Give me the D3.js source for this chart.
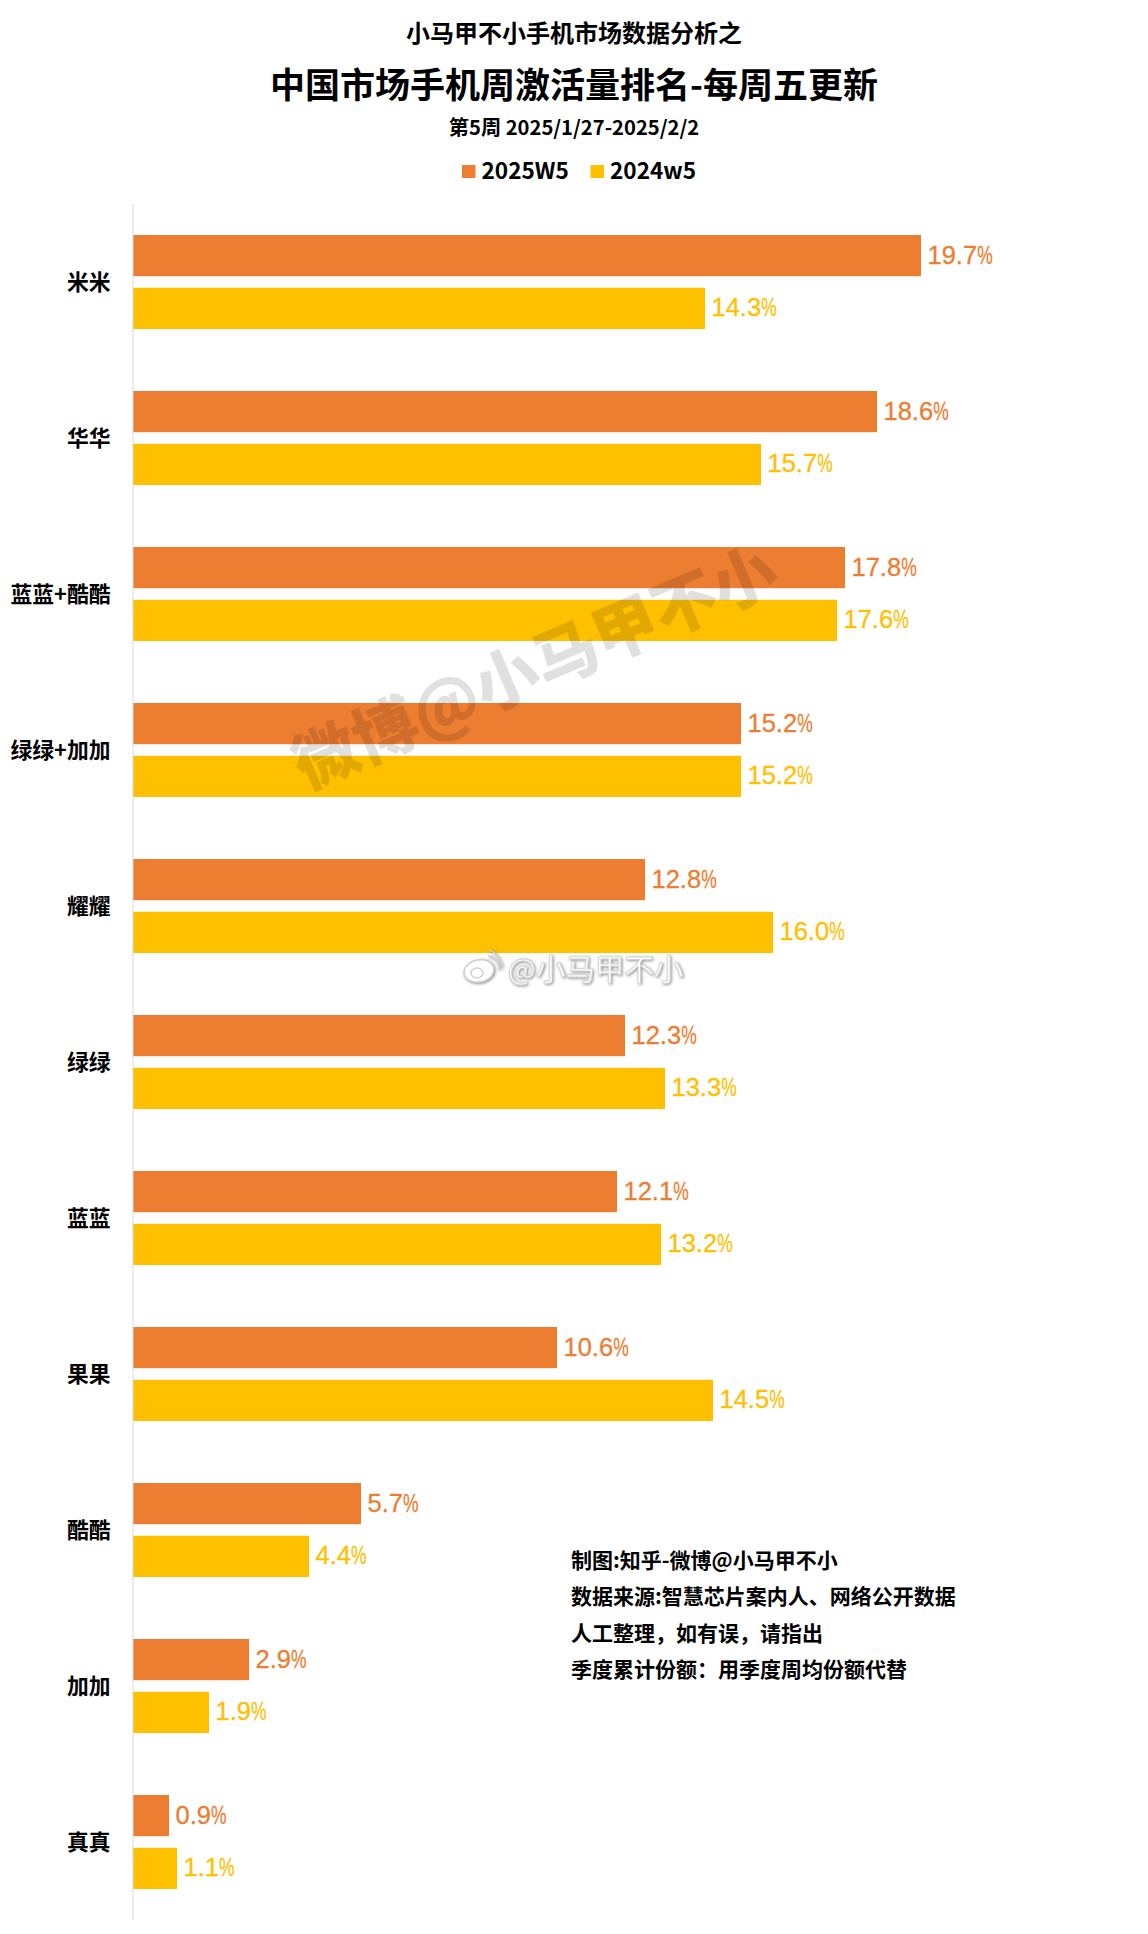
<!DOCTYPE html>
<html>
<head>
<meta charset="utf-8">
<script src="https://cdn.jsdelivr.net/npm/d3@7"></script>
<style>
body { margin: 0; background: #fff; }
text { font-family: "Noto Sans CJK SC", "Liberation Sans", sans-serif; }
.value { font-family: "Liberation Sans", sans-serif; font-size: 25.5px; stroke-width: 0.3px; }
.note, .cat text { font-weight: 700; fill: #000; }
.soft { filter: drop-shadow(1px 1px 1.5px rgba(0,0,0,0.45)); }
</style>
</head>
<body>
<div id="chart"></div>
<script>
const categories = ["米米", "华华", "蓝蓝+酷酷", "绿绿+加加", "耀耀", "绿绿", "蓝蓝", "果果", "酷酷", "加加", "真真"];
const w2025 = [19.7, 18.6, 17.8, 15.2, 12.8, 12.3, 12.1, 10.6, 5.7, 2.9, 0.9];
const w2024 = [14.3, 15.7, 17.6, 15.2, 16.0, 13.3, 13.2, 14.5, 4.4, 1.9, 1.1];
const seriesNames = ["2025W5", "2024w5"];
const seriesColors = ["#ED7D31", "#FFC000"];
const notes = ["制图:知乎-微博@小马甲不小", "数据来源:智慧芯片案内人、网络公开数据", "人工整理，如有误，请指出", "季度累计份额：用季度周均份额代替"];

const width = 1148, height = 1934;
const svg = d3.select("#chart").append("svg")
    .attr("width", width)
    .attr("height", height)
    .style("display", "block");

// titles
function title(txt, y, size) {
    svg.append("text").attr("x", 574).attr("y", y)
        .attr("text-anchor", "middle").attr("dominant-baseline", "central")
        .style("font-size", size + "px").style("font-weight", 700)
        .text(txt);
}
title("小马甲不小手机市场数据分析之", 31, 24);
title("中国市场手机周激活量排名-每周五更新", 82, 35);
title("第5周 2025/1/27-2025/2/2", 126.5, 20.2);

// legend
let legendX = [462, 590.5];
seriesNames.forEach((name, i) => {
    svg.append("rect").attr("x", legendX[i]).attr("y", 165)
        .attr("width", 13.5).attr("height", 13).attr("fill", seriesColors[i]);
    svg.append("text").attr("x", legendX[i] + 19.5).attr("y", 169)
        .attr("dominant-baseline", "central")
        .style("font-size", "22.6px").style("font-weight", 700)
        .text(name);
});

// scales
const x = d3.scaleLinear().domain([0, 25]).range([133, 1133]);
const y = d3.scaleBand().domain(categories).range([203.5, 1919.5]);
const yInner = d3.scaleBand().domain(seriesNames).range([31.5, 125.5]).paddingInner(0.22);

// bars and value labels
const rows = svg.selectAll("g.row")
    .data(categories)
    .enter()
    .append("g")
    .attr("class", "row")
    .attr("transform", d => "translate(0," + y(d) + ")");

[w2025, w2024].forEach((values, s) => {
    const name = seriesNames[s];
    rows.append("rect")
        .attr("x", x(0))
        .attr("y", yInner(name))
        .attr("width", (d, i) => x(values[i]) - x(0))
        .attr("height", yInner.bandwidth())
        .attr("fill", seriesColors[s]);
    const label = rows.append("text")
        .attr("class", "value")
        .attr("x", (d, i) => x(values[i]) + 6.5)
        .attr("y", yInner(name) + yInner.bandwidth() / 2 - 1)
        .attr("dominant-baseline", "central")
        .attr("fill", seriesColors[s])
        .attr("stroke", seriesColors[s])
        .text((d, i) => values[i].toFixed(1));
    // the percent sign is squeezed in the original
    label.append("tspan").attr("textLength", 15.5).attr("lengthAdjust", "spacingAndGlyphs").text("%");
});

// category axis
const axis = svg.append("g")
    .attr("class", "cat")
    .attr("transform", "translate(132.5,0)")
    .call(d3.axisLeft(y).tickSize(0).tickPadding(22));
axis.select(".domain").attr("stroke", "#d9d9d9").attr("stroke-width", 1);
axis.selectAll("text").style("font-size", "21.8px").attr("dy", "0.37em");

// watermarks
svg.append("text")
    .attr("transform", "translate(533,663) rotate(-23)")
    .attr("text-anchor", "middle").attr("dominant-baseline", "central")
    .style("font-size", "64.5px").style("font-weight", 900)
    .attr("fill", "rgba(0,0,0,0.12)")
    .text("微博@小马甲不小");

const logo = svg.append("g").attr("class", "soft").attr("fill", "#fff").attr("stroke", "#cfcfcf").attr("stroke-width", 1.5);
logo.append("ellipse").attr("cx", 479).attr("cy", 971).attr("rx", 15).attr("ry", 11).attr("transform", "rotate(-12 479 971)");
logo.append("ellipse").attr("cx", 477).attr("cy", 973).attr("rx", 6).attr("ry", 5);
logo.append("path").attr("fill", "none").attr("d", "M488 956 A12 12 0 0 1 499 970");
logo.append("path").attr("fill", "none").attr("d", "M489 950 A19 19 0 0 1 502 968");
svg.append("text")
    .attr("class", "soft")
    .attr("x", 508).attr("y", 967)
    .attr("dominant-baseline", "central")
    .style("font-size", "29.5px")
    .attr("fill", "#fff").attr("stroke", "#d4d4d4").attr("stroke-width", 0.8)
    .text("@小马甲不小");

// notes
const noteY = [1559, 1595, 1632, 1668];
svg.selectAll("text.note")
    .data(notes)
    .enter()
    .append("text")
    .attr("class", "note")
    .attr("x", 571)
    .attr("y", (d, i) => noteY[i])
    .attr("dominant-baseline", "central")
    .style("font-size", "21px")
    .text(d => d);
</script>
</body>
</html>
